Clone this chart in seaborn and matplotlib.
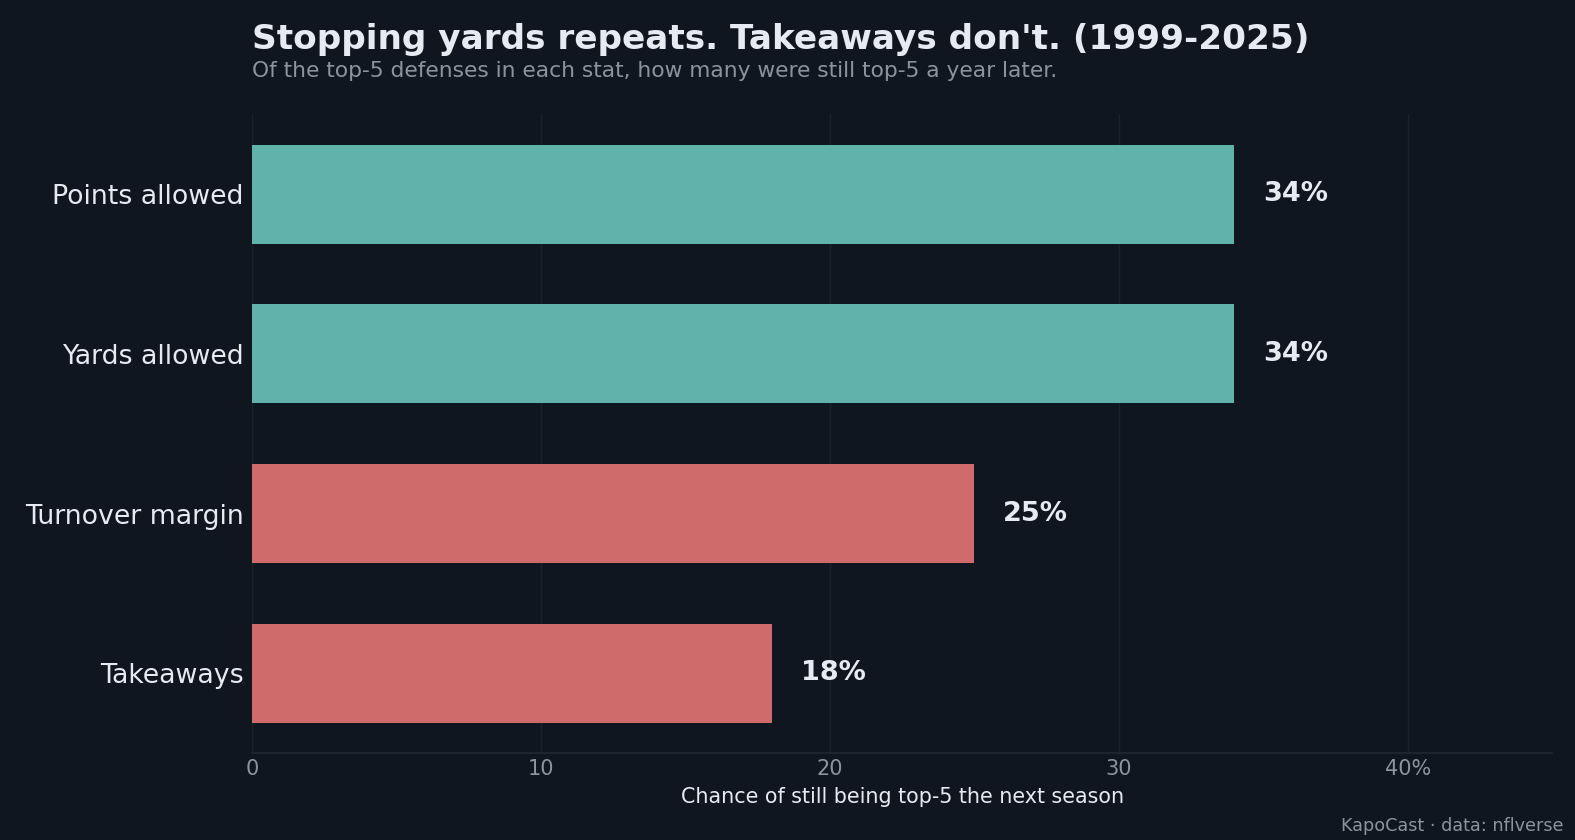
import matplotlib
matplotlib.use("Agg")
import matplotlib.pyplot as plt
import seaborn as sns
import pandas as pd

# data
stats = ["Points allowed", "Yards allowed", "Turnover margin", "Takeaways"]
repeat_pct = [34, 34, 25, 18]
group = ["yards", "yards", "takeaways", "takeaways"]

BG = "#0f1620"
TEAL = "#5fb3ab"
RED = "#cf6b6b"
TEXT = "#e6eaf2"
MUTED = "#8b949e"
GRID = "#1a212b"

sns.set_theme(style="dark")
plt.rcParams["font.family"] = ["DejaVu Sans"]

df = pd.DataFrame({"stat": stats, "pct": repeat_pct, "group": group})

fig = plt.figure(figsize=(15.75, 8.4), dpi=100, facecolor=BG)
ax = fig.add_axes([0.16, 0.1035, 0.8255, 0.7605])
ax.set_facecolor(BG)

sns.barplot(data=df, x="pct", y="stat", hue="group", dodge=False,
            palette={"yards": TEAL, "takeaways": RED}, width=0.62,
            legend=False, ax=ax, zorder=3, saturation=1, linewidth=0)

for i, v in enumerate(repeat_pct):
    ax.text(v + 1, i, f"{v}%", ha="left", va="center", fontsize=19.5,
            fontweight="bold", color=TEXT)

ax.set_xlim(0, 45)
ax.set_xticks([0, 10, 20, 30, 40])
ax.set_xticklabels(["0", "10", "20", "30", "40%"])
ax.tick_params(axis="x", colors=MUTED, labelsize=15, length=0, pad=4)
ax.tick_params(axis="y", colors=TEXT, labelsize=19.3, length=0, pad=6)
for lab in ax.get_yticklabels():
    lab.set_color(TEXT)

ax.grid(axis="x", color=GRID, linewidth=1, zorder=0)
ax.grid(axis="y", visible=False)
for s in ["top", "right", "left"]:
    ax.spines[s].set_visible(False)
ax.spines["bottom"].set_color("#1f2733")
ax.spines["bottom"].set_linewidth(1.2)

ax.set_ylabel("")
ax.set_xlabel("Chance of still being top-5 the next season", color=TEXT,
              fontsize=14.9, labelpad=6)

fig.text(0.16, 0.953, "Stopping yards repeats. Takeaways don't. (1999-2025)",
         ha="left", va="center", fontsize=24.7, fontweight="bold", color=TEXT)
fig.text(0.16, 0.916, "Of the top-5 defenses in each stat, how many were still top-5 a year later.",
         ha="left", va="center", fontsize=15.7, color=MUTED)
fig.text(0.993, 0.017, "KapoCast · data: nflverse", ha="right", va="center",
         fontsize=12.7, color=MUTED)

fig.savefig("out.png", dpi=100, facecolor=BG)
